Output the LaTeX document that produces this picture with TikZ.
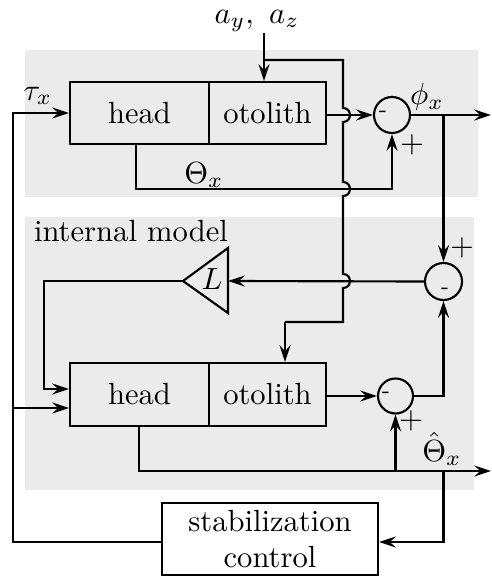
\documentclass[tikz,border=0pt]{standalone}
\usetikzlibrary{arrows.meta,calc}
\begin{document}
\begin{tikzpicture}[x=0.3268pt,y=-0.3268pt,
  line width=0.7pt,
  arr/.style={-{Stealth[length=5.5pt,width=3.6pt,inset=2pt]}},
  blk/.style={draw, inner sep=0pt},
  sumnode/.style={draw, circle, inner sep=0pt},
  lbl/.style={inner sep=0pt},
  sgn/.style={inner sep=0pt, font=\scriptsize},
  pw/.style={minimum width=#1*0.3268pt},
  ph/.style={minimum height=#1*0.3268pt},
  pd/.style={minimum size=#1*0.3268pt}]
\useasboundingbox (0,0) rectangle (491,576);
% backgrounds
\fill[black!8] (25,50) rectangle (478,197);
\fill[black!8] (25,217) rectangle (474,490);
% blocks
\node[blk,pw=139,ph=62] (head1) at (139.5,113) {head};
\node[blk,pw=117,ph=62] (oto1) at (267.5,113) {otolith};
\node[blk,pw=139,ph=63] (head2) at (139.5,394.5) {head};
\node[blk,pw=117,ph=63] (oto2) at (267.5,394.5) {otolith};
\node[sumnode,pd=36] (s1) at (392,115) {};
\node[sumnode,pd=35] (s2) at (395.5,396) {};
\node[sumnode,pd=37] (s3) at (443.5,281.5) {};
\node[blk,pw=216,ph=72,align=center] (stab) at (270,539) {stabilization\\control};
% gain triangle
\coordinate (Ltip) at (183,281);
\coordinate (Lin) at (228,281);
\draw (Ltip) -- (228,248) -- (228,313) -- cycle;
\node[lbl] (L) at (212,279) {$L$};
% labels
\node[lbl] (ayz) at (257,21) {$a_y,\ a_z$};
\node[lbl] (phi) at (427,97) {$\phi_x$};
\node[lbl] (Th) at (204,175) {$\Theta_x$};
\node[lbl] (tau) at (38,96) {$\tau_x$};
\node[lbl] (p1) at (412,145) {$+$};
\node[lbl] (p3) at (462,248) {$+$};
\node[lbl] (p2) at (411,421) {$+$};
\node[lbl] (Thh) at (442,449) {$\hat{\Theta}_x$};
\node[lbl] (im) at (131,231) {internal model};
\node[sgn] (m1) at (383,114) {-};
\node[sgn] (m2) at (386,395) {-};
\node[sgn] (m3) at (445,291) {-};
% connectors
\coordinate (acc) at (264,33);
\draw[arr] (acc) -- (oto1.north -| acc);
\coordinate (br1) at (264,60);
\coordinate (v0) at (343,60);
\coordinate (v1) at (343,322);
\coordinate (v2) at (285,322);
\draw (br1) -- (v0) -- (343,108) .. controls (352.3,108) and (352.3,122) .. (343,122)
  -- (343,182) .. controls (352.3,182) and (352.3,196) .. (343,196)
  -- (343,274) .. controls (352.3,274) and (352.3,288) .. (343,288)
  -- (v1) -- (v2);
\draw[arr] (v2) -- (oto2.north -| v2);
\draw[arr] (oto1.east |- s1) -- (s1.west);
\coordinate (out1) at (491,115);
\draw[arr] (s1.east) -- (out1);
\coordinate (b1) at (443.5,115);
\draw[arr] (b1) -- (s3.north);
\coordinate (th1) at (136,189);
\draw[arr] (head1.south -| th1) -- (th1) -| (s1.south);
\draw[arr] (s3.west) -- (Lin);
\coordinate (fb) at (44,389);
\draw[arr] (Ltip) -| (fb) -- (fb -| head2.west);
\draw[arr] (oto2.east |- s2) -- (s2.west);
\draw[arr] (s2.east) -| (s3.south);
\coordinate (th2) at (139,471);
\coordinate (out2) at (491,471);
\draw[arr] (head2.south -| th2) -- (th2) -- (out2);
\coordinate (b2) at (395.5,471);
\draw[arr] (b2) -- (s2.south);
\coordinate (b3) at (443.5,471);
\coordinate (sc) at (443.5,542);
\draw[arr] (b3) -- (sc) -- (sc -| stab.east);
\coordinate (lc) at (13,542);
\coordinate (tauin) at (13,113);
\draw[arr] (stab.west |- lc) -- (lc) -- (tauin) -- (head1.west);
\coordinate (l2) at (13,408);
\draw[arr] (l2) -- (l2 -| head2.west);
\end{tikzpicture}
\end{document}
